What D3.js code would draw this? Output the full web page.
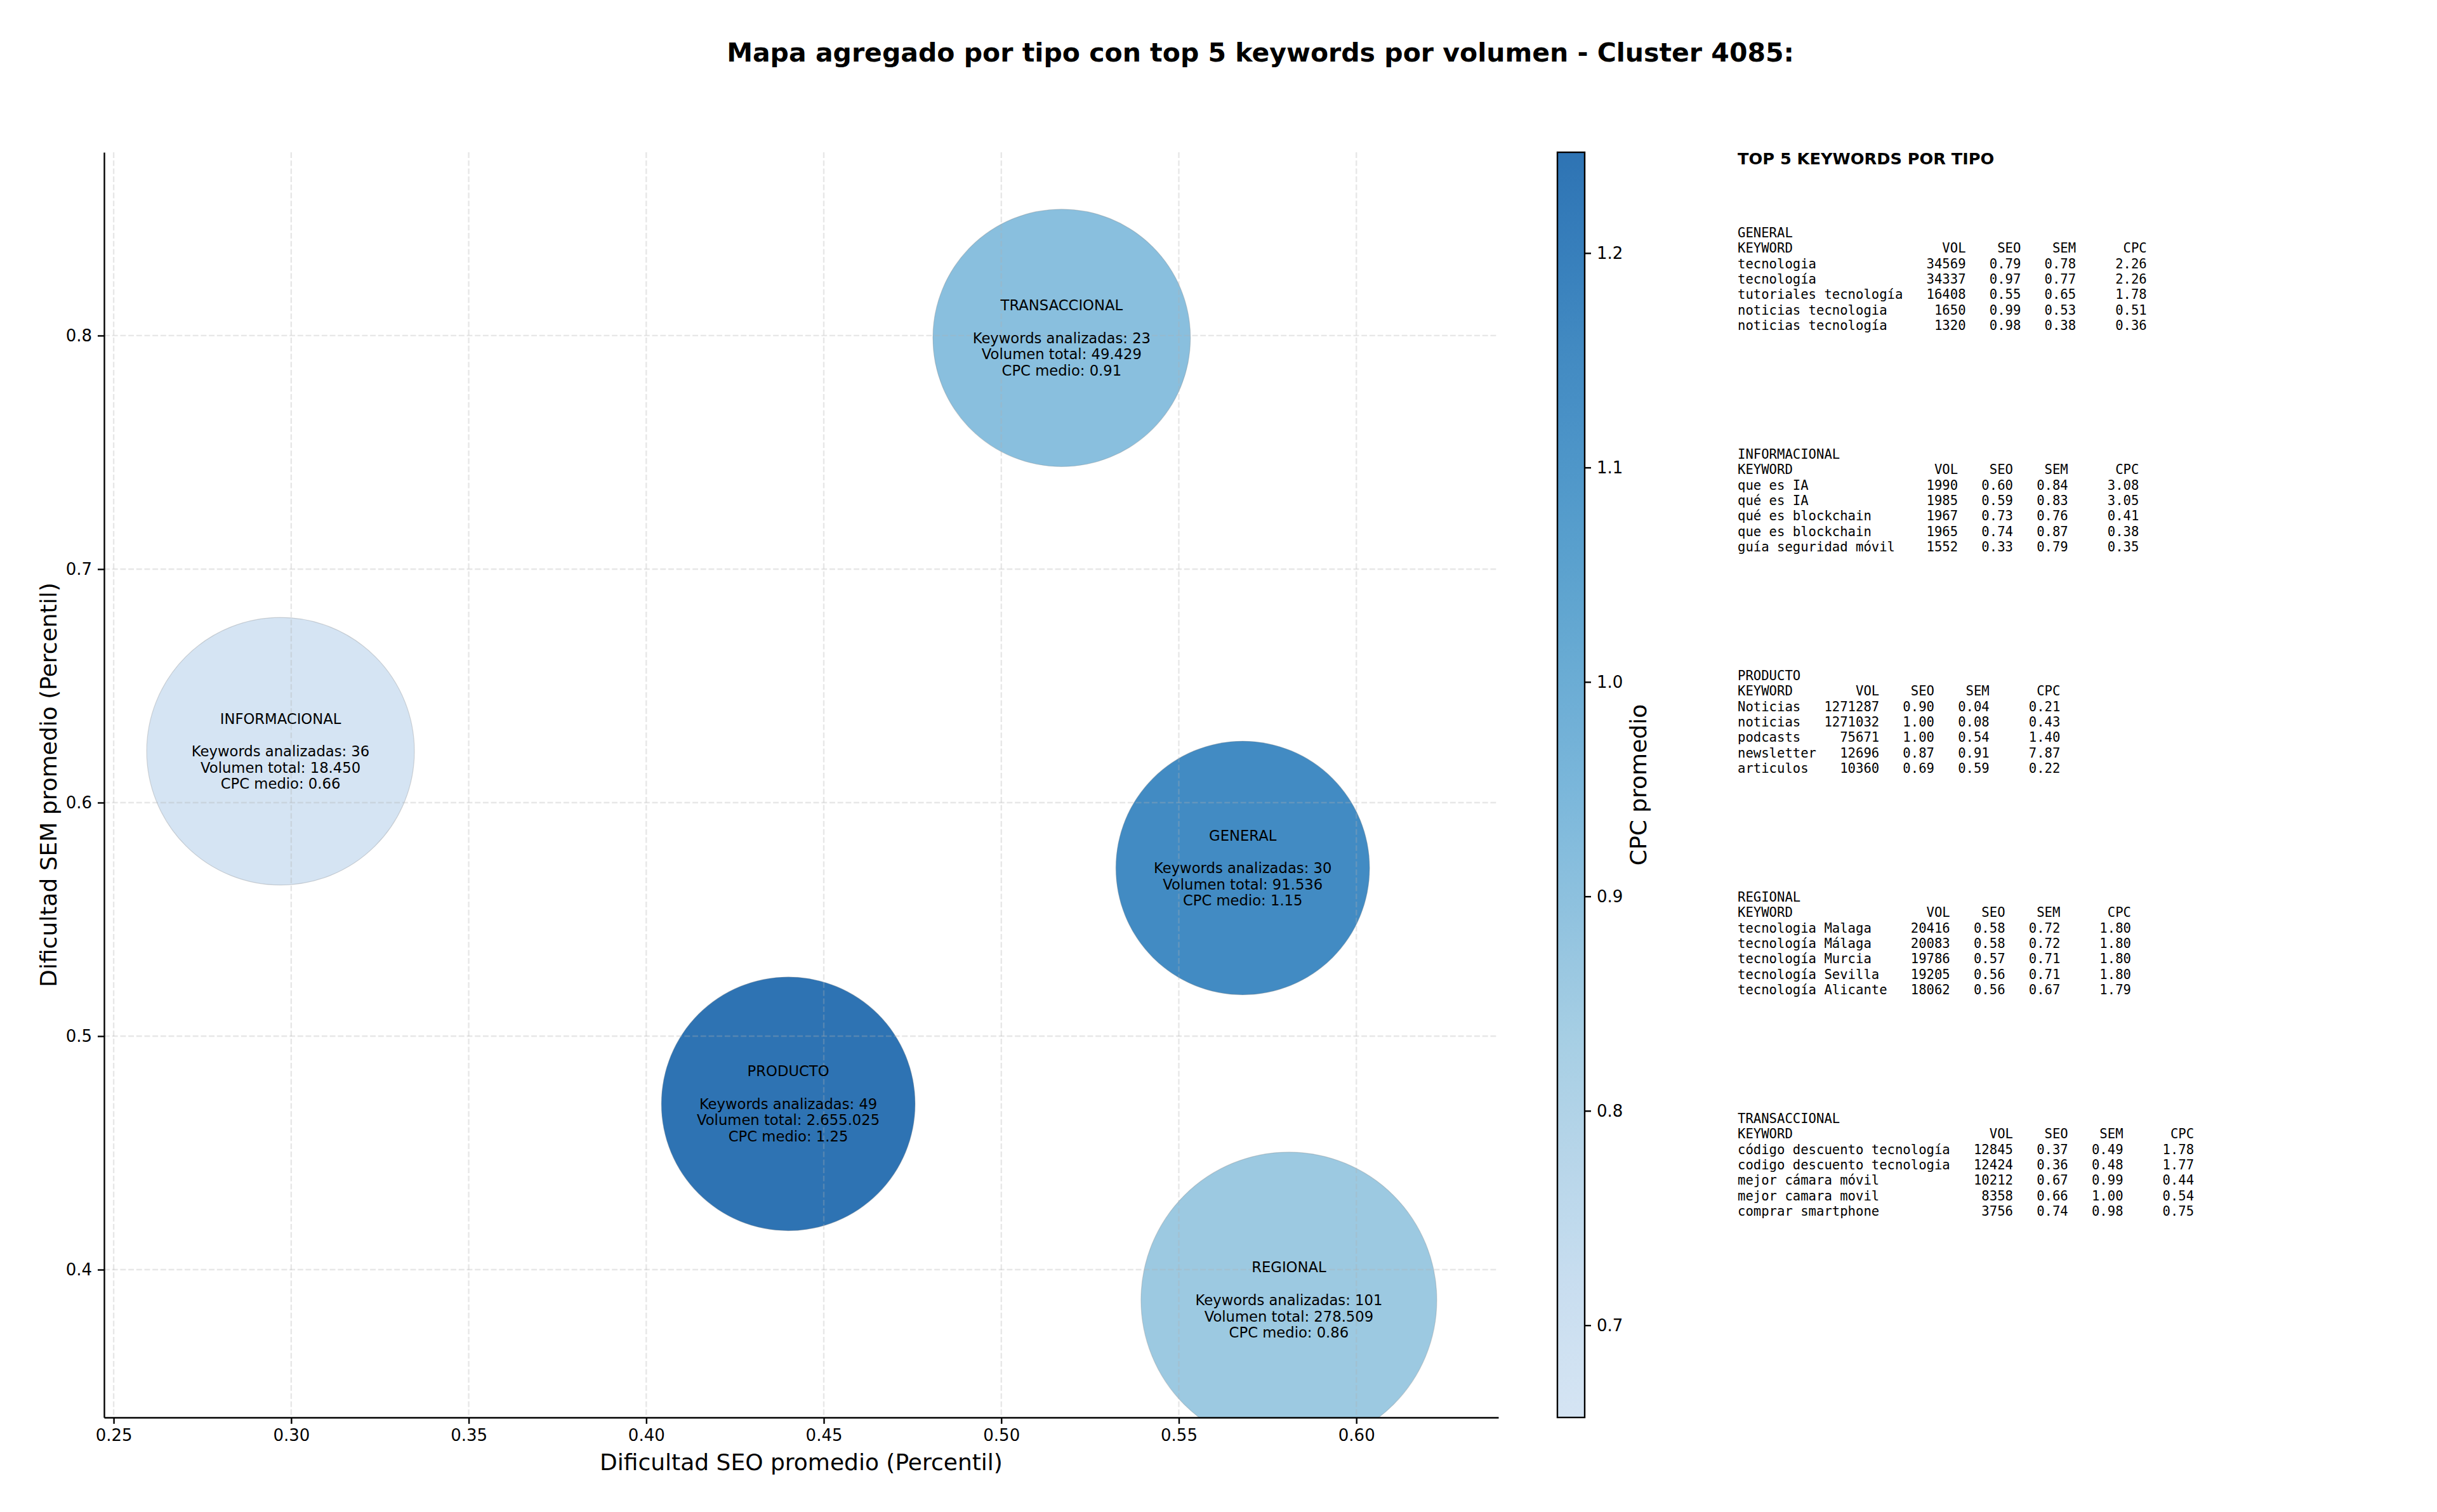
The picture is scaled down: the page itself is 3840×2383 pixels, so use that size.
<!DOCTYPE html>
<html>
<head>
<meta charset="utf-8">
<script src="https://cdn.jsdelivr.net/npm/d3@7"></script>
<style>
body { margin: 0; background: #fff; }
svg text { font-family: "DejaVu Sans", sans-serif; fill: #000; }
svg text.mono { font-family: "DejaVu Sans Mono", monospace; white-space: pre; }
</style>
</head>
<body>
<svg id="chart" width="3840" height="2383"></svg>
<script>
// aggregated values per type
var TIPOS = ["GENERAL", "INFORMACIONAL", "PRODUCTO", "REGIONAL", "TRANSACCIONAL"];
var SEO_MEDIO = [0.568, 0.297, 0.440, 0.581, 0.517];
var SEM_MEDIO = [0.572, 0.622, 0.471, 0.387, 0.799];
var CPC_MEDIO = [1.15, 0.657, 1.247, 0.86, 0.91];
var N_KEYWORDS = [30, 36, 49, 101, 23];
var VOL_TOTAL = [91536, 18450, 2655025, 278509, 49429];
var BUBBLE_SIZE = [18100, 20150, 18100, 24600, 18650]; // marker area (pt^2)

var X_TICKS = [0.25, 0.30, 0.35, 0.40, 0.45, 0.50, 0.55, 0.60];
var Y_TICKS = [0.4, 0.5, 0.6, 0.7, 0.8];
var CPC_TICKS = [0.7, 0.8, 0.9, 1.0, 1.1, 1.2];

// top 5 keywords: keyword, vol, seo, sem, cpc
var TOP_GENERAL = [
	["tecnologia", 34569, 0.79, 0.78, 2.26],
	["tecnología", 34337, 0.97, 0.77, 2.26],
	["tutoriales tecnología", 16408, 0.55, 0.65, 1.78],
	["noticias tecnologia", 1650, 0.99, 0.53, 0.51],
	["noticias tecnología", 1320, 0.98, 0.38, 0.36]];
var TOP_INFORMACIONAL = [
	["que es IA", 1990, 0.60, 0.84, 3.08],
	["qué es IA", 1985, 0.59, 0.83, 3.05],
	["qué es blockchain", 1967, 0.73, 0.76, 0.41],
	["que es blockchain", 1965, 0.74, 0.87, 0.38],
	["guía seguridad móvil", 1552, 0.33, 0.79, 0.35]];
var TOP_PRODUCTO = [
	["Noticias", 1271287, 0.90, 0.04, 0.21],
	["noticias", 1271032, 1.00, 0.08, 0.43],
	["podcasts", 75671, 1.00, 0.54, 1.40],
	["newsletter", 12696, 0.87, 0.91, 7.87],
	["articulos", 10360, 0.69, 0.59, 0.22]];
var TOP_REGIONAL = [
	["tecnologia Malaga", 20416, 0.58, 0.72, 1.80],
	["tecnología Málaga", 20083, 0.58, 0.72, 1.80],
	["tecnología Murcia", 19786, 0.57, 0.71, 1.80],
	["tecnología Sevilla", 19205, 0.56, 0.71, 1.80],
	["tecnología Alicante", 18062, 0.56, 0.67, 1.79]];
var TOP_TRANSACCIONAL = [
	["código descuento tecnología", 12845, 0.37, 0.49, 1.78],
	["codigo descuento tecnologia", 12424, 0.36, 0.48, 1.77],
	["mejor cámara móvil", 10212, 0.67, 0.99, 0.44],
	["mejor camara movil", 8358, 0.66, 1.00, 0.54],
	["comprar smartphone", 3756, 0.74, 0.98, 0.75]];
var TOP_TABLES = [TOP_GENERAL, TOP_INFORMACIONAL, TOP_PRODUCTO, TOP_REGIONAL, TOP_TRANSACCIONAL];

var TITLE = "Mapa agregado por tipo con top 5 keywords por volumen - Cluster 4085:";

// layout
var W = 3840, H = 2383;
var PLOT = { left: 164, top: 240, right: 2361, bottom: 2234 };
var CBAR = { left: 2454, right: 2497 };
var LW = 2.4; // spine / tick width
var TICK_FONT = 26;

var BLUES = ["#f7fbff", "#deebf7", "#c6dbef", "#9ecae1", "#6baed6",
	"#4292c6", "#2171b5", "#08519c", "#08306b"];

var svg = d3.select("#chart");

var esLocale = d3.formatLocale({ decimal: ",", thousands: ".", grouping: [3], currency: ["", ""] });
var fmtVol = esLocale.format(",d");

var data = TIPOS.map(function(t, i) {
	return {
		tipo : t,
		seo : SEO_MEDIO[i],
		sem : SEM_MEDIO[i],
		cpc : CPC_MEDIO[i],
		n : N_KEYWORDS[i],
		vol : VOL_TOTAL[i],
		size : BUBBLE_SIZE[i]
	};
});

// scales
var x = d3.scaleLinear().domain([0.2473, 0.640]).range([PLOT.left, PLOT.right]);
var y = d3.scaleLinear().domain([0.3367, 0.8785]).range([PLOT.bottom, PLOT.top]);
var r = d3.scaleSqrt().domain([0, 10000]).range([0, 148.6]);

var bluesRamp = d3.scaleLinear().domain(d3.range(9).map(function(i) { return i / 8; })).range(BLUES);
var cpcExtent = d3.extent(CPC_MEDIO);
var cpcPos = d3.scaleLinear().domain(cpcExtent).range([0.2, 0.8]);
function cpcColor(v) {
	return bluesRamp(cpcPos(v));
}
var BUBBLE_ALPHA = 0.9;

// title
svg.append("text") //
.attr("x", 1986) //
.attr("y", 83) //
.attr("text-anchor", "middle") //
.attr("dominant-baseline", "central") //
.attr("font-size", 41) //
.attr("font-weight", "bold") //
.text(TITLE);

// clip for bubbles
svg.append("clipPath").attr("id", "plotClip") //
.append("rect") //
.attr("x", PLOT.left) //
.attr("y", PLOT.top) //
.attr("width", PLOT.right - PLOT.left) //
.attr("height", PLOT.bottom - PLOT.top);

// bubbles
var bubbles = svg.append("g").attr("clip-path", "url(#plotClip)");
bubbles.selectAll("circle").data(data).enter().append("circle") //
.attr("cx", function(d) { return x(d.seo); }) //
.attr("cy", function(d) { return y(d.sem); }) //
.attr("r", function(d) { return r(d.size); }) //
.attr("fill", function(d) { return cpcColor(d.cpc); }) //
.attr("fill-opacity", BUBBLE_ALPHA) //
.attr("stroke", "#808080") //
.attr("stroke-opacity", 0.3) //
.attr("stroke-width", 1.2);

// grid (drawn above the bubbles, like matplotlib)
var grid = svg.append("g");
grid.selectAll("line.gx").data(X_TICKS).enter().append("line") //
.attr("x1", function(d) { return x(d); }) //
.attr("x2", function(d) { return x(d); }) //
.attr("y1", PLOT.top) //
.attr("y2", PLOT.bottom);
grid.selectAll("line.gy").data(Y_TICKS).enter().append("line") //
.attr("x1", PLOT.left) //
.attr("x2", PLOT.right) //
.attr("y1", function(d) { return y(d); }) //
.attr("y2", function(d) { return y(d); });
grid.selectAll("line") //
.attr("stroke", "#b0b0b0") //
.attr("stroke-opacity", 0.3) //
.attr("stroke-width", LW) //
.attr("stroke-dasharray", "8.9,3.8");

// bubble labels
data.forEach(function(d) {
	var lines = [d.tipo, "", "Keywords analizadas: " + d.n,
		"Volumen total: " + fmtVol(d.vol), "CPC medio: " + d.cpc.toFixed(2)];
	var t = svg.append("text") //
	.attr("text-anchor", "middle") //
	.attr("font-size", 22.7);
	lines.forEach(function(line, i) {
		if (line === "") return;
		t.append("tspan") //
		.attr("x", x(d.seo)) //
		.attr("y", y(d.sem) + (i - 2) * 25.7) //
		.attr("dominant-baseline", "central") //
		.text(line);
	});
});

function styleAxis(g) {
	g.select(".domain").attr("stroke", "#000").attr("stroke-width", LW);
	g.selectAll(".tick line").attr("stroke", "#000").attr("stroke-width", LW);
	g.selectAll(".tick text") //
	.attr("font-family", "DejaVu Sans") //
	.attr("font-size", TICK_FONT) //
	.attr("fill", "#000");
}

// x axis
var xAxis = svg.append("g") //
.attr("transform", "translate(0," + PLOT.bottom + ")") //
.call(d3.axisBottom(x).tickValues(X_TICKS).tickFormat(d3.format(".2f")) //
.tickSize(10).tickSizeOuter(0).tickPadding(9));
styleAxis(xAxis);

// y axis
var yAxis = svg.append("g") //
.attr("transform", "translate(" + PLOT.left + ",0)") //
.call(d3.axisLeft(y).tickValues(Y_TICKS).tickFormat(d3.format(".1f")) //
.tickSize(10).tickSizeOuter(0).tickPadding(9));
styleAxis(yAxis);

// axis labels
svg.append("text") //
.attr("x", (PLOT.left + PLOT.right) / 2) //
.attr("y", 2304) //
.attr("text-anchor", "middle") //
.attr("dominant-baseline", "central") //
.attr("font-size", 36) //
.text("Dificultad SEO promedio (Percentil)");

svg.append("text") //
.attr("transform", "translate(76," + (PLOT.top + PLOT.bottom) / 2 + ") rotate(-90)") //
.attr("text-anchor", "middle") //
.attr("dominant-baseline", "central") //
.attr("font-size", 36) //
.text("Dificultad SEM promedio (Percentil)");

// colorbar
var c = d3.scaleLinear().domain(cpcExtent).range([PLOT.bottom, PLOT.top]);
var grad = svg.append("defs").append("linearGradient") //
.attr("id", "cbarGrad") //
.attr("x1", 0).attr("y1", 1).attr("x2", 0).attr("y2", 0);
d3.range(0, 1.0001, 0.05).forEach(function(t) {
	var v = cpcExtent[0] + t * (cpcExtent[1] - cpcExtent[0]);
	grad.append("stop") //
	.attr("offset", t) //
	.attr("stop-color", cpcColor(v)) //
	.attr("stop-opacity", BUBBLE_ALPHA);
});
svg.append("rect") //
.attr("x", CBAR.left) //
.attr("y", PLOT.top) //
.attr("width", CBAR.right - CBAR.left) //
.attr("height", PLOT.bottom - PLOT.top) //
.attr("fill", "url(#cbarGrad)") //
.attr("stroke", "#000") //
.attr("stroke-width", LW);

var cAxis = svg.append("g") //
.attr("transform", "translate(" + CBAR.right + ",0)") //
.call(d3.axisRight(c).tickValues(CPC_TICKS).tickFormat(d3.format(".1f")) //
.tickSize(10).tickSizeOuter(0).tickPadding(9));
styleAxis(cAxis);
cAxis.select(".domain").remove();

svg.append("text") //
.attr("transform", "translate(2581," + (PLOT.top + PLOT.bottom) / 2 + ") rotate(-90)") //
.attr("text-anchor", "middle") //
.attr("dominant-baseline", "central") //
.attr("font-size", 36) //
.text("CPC promedio");

// side panel: top 5 keywords per type
var SIDE_X = 2738;
var MONO_FONT = 20.6;
var LINE_H = 24.3;

svg.append("text") //
.attr("x", SIDE_X) //
.attr("y", 250) //
.attr("dominant-baseline", "central") //
.attr("font-size", 25.6) //
.attr("font-weight", "bold") //
.text("TOP 5 KEYWORDS POR TIPO");

function tableLines(tipo, rows) {

	var kwWidth = d3.max(rows, function(d) { return d[0].length; });
	var lines = [tipo];
	lines.push("KEYWORD".padEnd(kwWidth) + "VOL".padStart(8) + "SEO".padStart(7)
			+ "SEM".padStart(7) + "CPC".padStart(9));
	rows.forEach(function(d) {
		lines.push(d[0].padEnd(kwWidth) + String(d[1]).padStart(8) //
				+ d[2].toFixed(2).padStart(7) + d[3].toFixed(2).padStart(7) //
				+ d[4].toFixed(2).padStart(9));
	});
	return lines;

}// END: tableLines

TIPOS.forEach(function(tipo, b) {
	var top = 367 + b * 349;
	var lines = tableLines(tipo, TOP_TABLES[b]);
	var t = svg.append("text") //
	.attr("class", "mono") //
	.attr("font-size", MONO_FONT);
	lines.forEach(function(line, i) {
		t.append("tspan") //
		.attr("x", SIDE_X) //
		.attr("y", top + i * LINE_H) //
		.attr("dominant-baseline", "central") //
		.text(line);
	});
});
</script>
</body>
</html>
